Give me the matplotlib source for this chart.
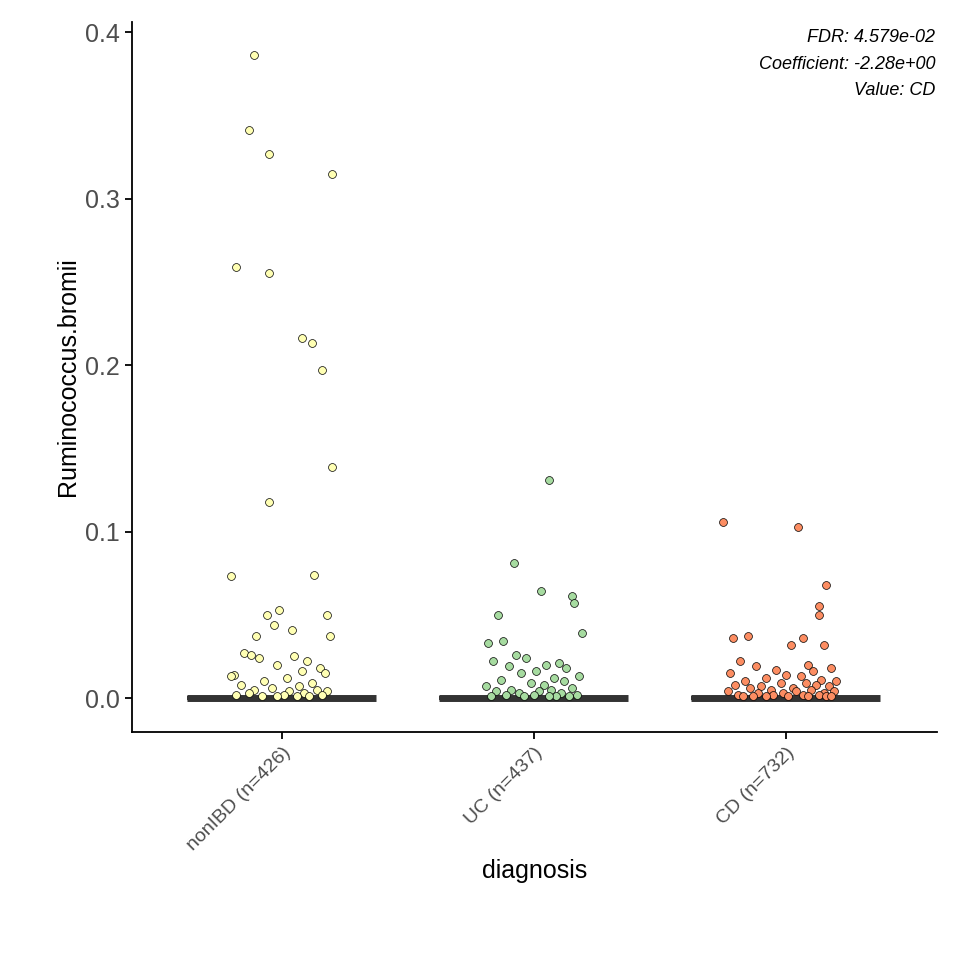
import numpy as np
import matplotlib.pyplot as plt

plt.rcParams['font.family'] = ['Liberation Sans', 'DejaVu Sans']

groups = ['nonIBD (n=426)', 'UC (n=437)', 'CD (n=732)']
group_n = [426, 437, 732]
colors = ['#FFFFB3', '#A6DBA0', '#FC8D62']

# non-zero values, with their horizontal jitter
nonibd_vals = [0.386, 0.341, 0.327, 0.315, 0.259, 0.255, 0.216, 0.213, 0.197, 0.139,
               0.118, 0.073, 0.074, 0.053, 0.050, 0.050, 0.044, 0.041, 0.037, 0.037,
               0.027, 0.026, 0.025, 0.024, 0.022, 0.020, 0.018, 0.016, 0.015, 0.014,
               0.013, 0.012, 0.010, 0.009, 0.008, 0.007, 0.006, 0.005, 0.005, 0.004,
               0.004, 0.003, 0.003, 0.002, 0.002, 0.002, 0.001, 0.001, 0.001, 0.001]
nonibd_jit = [-0.11, -0.13, -0.05, 0.20, -0.18, -0.05, 0.08, 0.12, 0.16, 0.20,
              -0.05, -0.20, 0.13, -0.01, -0.06, 0.18, -0.03, 0.04, -0.10, 0.19,
              -0.15, -0.12, 0.05, -0.09, 0.10, -0.02, 0.15, 0.08, 0.17, -0.19,
              -0.20, 0.02, -0.07, 0.12, -0.16, 0.07, -0.04, 0.14, -0.11, 0.03,
              0.18, -0.13, 0.09, -0.18, 0.01, 0.16, -0.08, 0.11, -0.02, 0.06]
uc_vals = [0.131, 0.081, 0.064, 0.061, 0.057, 0.050, 0.039, 0.034, 0.033, 0.026,
           0.024, 0.022, 0.021, 0.020, 0.019, 0.018, 0.016, 0.015, 0.013, 0.012,
           0.011, 0.010, 0.009, 0.008, 0.007, 0.006, 0.005, 0.005, 0.004, 0.004,
           0.003, 0.003, 0.002, 0.002, 0.002, 0.001, 0.001, 0.001, 0.001, 0.001]
uc_jit = [0.06, -0.08, 0.03, 0.15, 0.16, -0.14, 0.19, -0.12, -0.18, -0.07,
          -0.03, -0.16, 0.10, 0.05, -0.10, 0.13, 0.01, -0.05, 0.18, 0.08,
          -0.13, 0.12, -0.01, 0.04, -0.19, 0.15, -0.09, 0.07, 0.02, -0.15,
          0.11, -0.06, 0.17, -0.11, 0.00, 0.09, -0.17, 0.14, -0.04, 0.06]
cd_vals = [0.106, 0.103, 0.068, 0.055, 0.050, 0.037, 0.036, 0.036, 0.032, 0.032,
           0.022, 0.020, 0.019, 0.018, 0.017, 0.016, 0.015, 0.014, 0.013, 0.012,
           0.011, 0.010, 0.010, 0.009, 0.009, 0.008, 0.008, 0.007, 0.007, 0.006,
           0.006, 0.005, 0.005, 0.004, 0.004, 0.004, 0.003, 0.003, 0.003, 0.002,
           0.002, 0.002, 0.002, 0.001, 0.001, 0.001, 0.001, 0.001, 0.001, 0.001]
cd_jit = [-0.25, 0.05, 0.16, 0.13, 0.13, -0.15, -0.21, 0.07, 0.15, 0.02,
          -0.18, 0.09, -0.12, 0.18, -0.04, 0.11, -0.22, 0.00, 0.06, -0.08,
          0.14, -0.16, 0.20, -0.02, 0.08, -0.20, 0.12, -0.10, 0.17, 0.03,
          -0.14, 0.10, -0.06, 0.19, -0.23, 0.04, -0.11, 0.15, -0.01, 0.07,
          -0.19, 0.13, -0.05, 0.01, 0.16, -0.13, 0.09, -0.08, 0.18, -0.17]

values = [nonibd_vals, uc_vals, cd_vals]
jitter = [nonibd_jit, uc_jit, cd_jit]

fig, ax = plt.subplots(figsize=(9.6, 9.6), dpi=100)
fig.subplots_adjust(left=0.1375, right=0.976, bottom=0.2375, top=0.977)

for i, (v, n) in enumerate(zip(values, group_n)):
    full = np.concatenate([v, np.zeros(n - len(v))])
    ax.boxplot([full], positions=[i], widths=0.75, showfliers=False,
               patch_artist=True,
               boxprops=dict(facecolor='white', edgecolor='#333333', linewidth=3),
               medianprops=dict(color='#333333', linewidth=5),
               whiskerprops=dict(color='#333333', linewidth=3),
               capprops=dict(linewidth=0))
    ax.scatter(i + np.array(jitter[i]), v, s=32, c=colors[i],
               edgecolors='black', linewidths=0.5, zorder=3)

ax.set_xlim(-0.594, 2.6)
ax.set_ylim(-0.0204, 0.406)
ax.set_yticks([0.0, 0.1, 0.2, 0.3, 0.4])
ax.set_yticklabels(['0.0', '0.1', '0.2', '0.3', '0.4'])
ax.set_xticks(range(3))
ax.set_xticklabels(groups, rotation=45, ha='right', rotation_mode='anchor')
ax.tick_params(axis='y', labelsize=18, labelcolor='#4D4D4D', length=5, width=1.3)
ax.tick_params(axis='x', labelsize=14, labelcolor='#4D4D4D', length=5, width=1.3)
for s in ['top', 'right']:
    ax.spines[s].set_visible(False)
for s in ['left', 'bottom']:
    ax.spines[s].set_linewidth(1.3)
ax.set_ylabel('Ruminococcus.bromii', fontsize=18)
ax.set_xlabel('diagnosis', fontsize=18)

for k, t in enumerate(['FDR: 4.579e-02', 'Coefficient: -2.28e+00', 'Value: CD']):
    ax.text(0.998, 0.99 - k * 0.0375, t, transform=ax.transAxes, ha='right',
            va='top', fontsize=13, style='italic')

fig.savefig('out.png')
